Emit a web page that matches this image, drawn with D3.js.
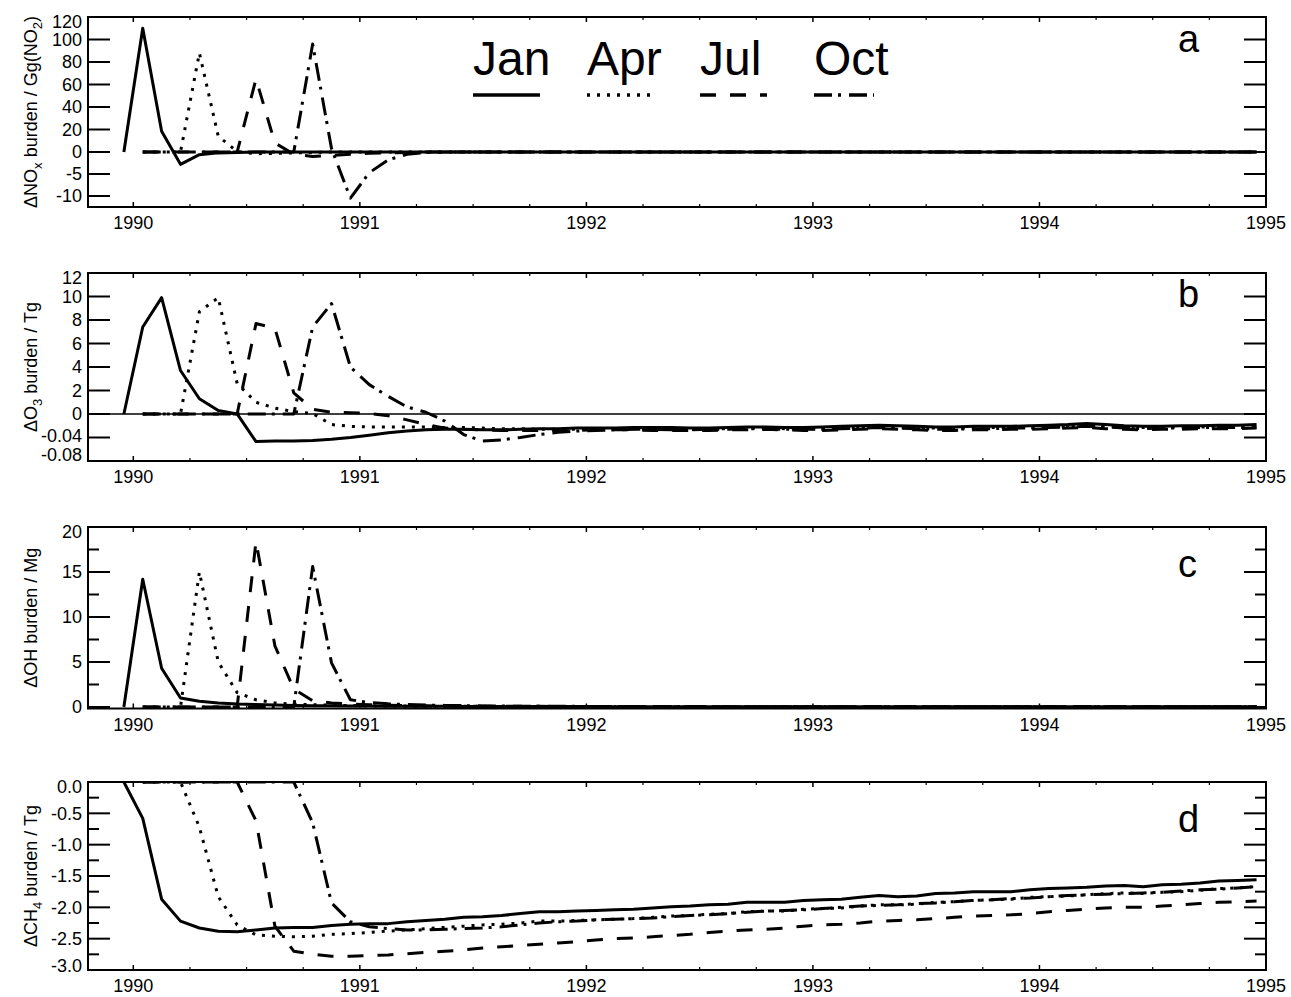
<!DOCTYPE html>
<html><head><meta charset="utf-8">
<script src="https://cdn.jsdelivr.net/npm/d3@7"></script>
<style>
body{margin:0;background:#fff}
svg{display:block}
text{font-family:"Liberation Sans",Arial,Helvetica,sans-serif;fill:#000}
</style>
</head><body>
<svg id="chart" width="1291" height="997"></svg>
<script>
// ---------------- DATA ----------------
const seriesNames = ["Jan","Apr","Jul","Oct"];
const yearTicks = [1990,1991,1992,1993,1994,1995];
// monthly values, index 0 = mid-Dec 1989, index 60 = mid-Dec 1994
const nox_Jan = [0,110,18.5,-2.8,-0.6,-0.2,-0.1,0,0,0,
 0,0,0,0,0,0,0,0,0,0, 0,0,0,0,0,0,0,0,0,0, 0,0,0,0,0,0,0,0,0,0,
 0,0,0,0,0,0,0,0,0,0, 0,0,0,0,0,0,0,0,0,0, 0];
const nox_Apr = [null,0,0,0,88,14,0.5,-0.4,-0.3,-0.2,
 -0.1,0,0,0,0,0,0,0,0,0, 0,0,0,0,0,0,0,0,0,0, 0,0,0,0,0,0,0,0,0,0,
 0,0,0,0,0,0,0,0,0,0, 0,0,0,0,0,0,0,0,0,0, 0];
const nox_Jul = [null,0,0,0,0,0,0,65,8,-0.5,
 -1,-0.8,-0.5,-0.3,-0.2,-0.1,0,0,0,0, 0,0,0,0,0,0,0,0,0,0, 0,0,0,0,0,0,0,0,0,0,
 0,0,0,0,0,0,0,0,0,0, 0,0,0,0,0,0,0,0,0,0, 0];
const nox_Oct = [null,0,0,0,0,0,0,0,0,0,
 96,3,-10.5,-4.7,-1.8,-0.5,-0.1,0,0,0, 0,0,0,0,0,0,0,0,0,0, 0,0,0,0,0,0,0,0,0,0,
 0,0,0,0,0,0,0,0,0,0, 0,0,0,0,0,0,0,0,0,0, 0];

const o3_Jan = [0,7.4,9.9,3.7,1.3,0.3,0.005,-0.047,-0.046,-0.046,
 -0.045,-0.043,-0.040,-0.036,-0.032,-0.029,-0.027,-0.026,-0.026,-0.027,
 -0.027,-0.026,-0.025,-0.025,-0.024,-0.024,-0.024,-0.023,-0.023,-0.023,
 -0.024,-0.024,-0.023,-0.022,-0.022,-0.023,-0.023,-0.022,-0.021,-0.020,
 -0.019,-0.020,-0.021,-0.022,-0.022,-0.021,-0.021,-0.021,-0.020,-0.019,
 -0.018,-0.016,-0.018,-0.020,-0.021,-0.021,-0.020,-0.020,-0.019,-0.019,
 -0.018];
const o3_Apr = [null,0,0,0,8.7,9.9,2.6,1.0,0.5,0.2,
 0.04,-0.018,-0.021,-0.022,-0.022,-0.022,-0.022,-0.023,-0.023,-0.024,
 -0.025,-0.025,-0.026,-0.026,-0.026,-0.025,-0.025,-0.025,-0.026,-0.026,
 -0.026,-0.025,-0.025,-0.024,-0.024,-0.025,-0.025,-0.025,-0.024,-0.023,
 -0.022,-0.023,-0.024,-0.024,-0.024,-0.024,-0.023,-0.023,-0.023,-0.022,
 -0.021,-0.020,-0.021,-0.023,-0.023,-0.023,-0.022,-0.022,-0.022,-0.021,
 -0.021];
const o3_Jul = [null,0,0,0,0,0,0,7.7,7.3,1.8,
 0.4,0.15,0.1,0.05,-0.003,-0.01,-0.018,-0.024,-0.026,-0.027,
 -0.028,-0.028,-0.028,-0.028,-0.028,-0.027,-0.027,-0.027,-0.028,-0.028,
 -0.028,-0.028,-0.027,-0.027,-0.026,-0.027,-0.028,-0.028,-0.027,-0.026,
 -0.025,-0.026,-0.027,-0.028,-0.028,-0.027,-0.027,-0.026,-0.026,-0.025,
 -0.024,-0.023,-0.025,-0.026,-0.027,-0.026,-0.026,-0.025,-0.025,-0.025,
 -0.024];
const o3_Oct = [null,0,0,0,0,0,0,0,0,0,
 7.4,9.4,4.0,2.5,1.5,0.6,0.15,-0.012,-0.035,-0.046,
 -0.044,-0.040,-0.035,-0.031,-0.029,-0.028,-0.027,-0.026,-0.026,-0.027,
 -0.027,-0.026,-0.026,-0.025,-0.025,-0.026,-0.026,-0.026,-0.025,-0.024,
 -0.023,-0.024,-0.025,-0.026,-0.026,-0.025,-0.025,-0.024,-0.024,-0.023,
 -0.022,-0.021,-0.022,-0.024,-0.025,-0.024,-0.024,-0.023,-0.023,-0.023,
 -0.022];

const oh_Jan = [0,14.2,4.3,1.0,0.65,0.45,0.33,0.27,0.22,0.18,
 0.15,0.13,0.11,0.10,0.09,0.08,0.07,0.07,0.06,0.06,
 0.05,0.05,0.05,0.05,0.05,0.04,0.04,0.04,0.04,0.04,
 0.04,0.04,0.04,0.04,0.03,0.03,0.03,0.03,0.03,0.03,
 0.03,0.03,0.03,0.03,0.03,0.03,0.03,0.03,0.03,0.03,
 0.03,0.03,0.03,0.02,0.02,0.02,0.02,0.02,0.02,0.02,
 0.02];
const oh_Apr = [null,0,0,0,15.0,5.0,1.6,0.8,0.45,0.32,
 0.25,0.20,0.16,0.13,0.11,0.10,0.09,0.08,0.07,0.07,
 0.06,0.06,0.05,0.05,0.05,0.05,0.04,0.04,0.04,0.04,
 0.04,0.04,0.04,0.04,0.04,0.03,0.03,0.03,0.03,0.03,
 0.03,0.03,0.03,0.03,0.03,0.03,0.03,0.03,0.03,0.03,
 0.03,0.03,0.03,0.03,0.02,0.02,0.02,0.02,0.02,0.02,
 0.02];
const oh_Jul = [null,0,0,0,0,0,0,18.4,6.8,2.0,
 0.7,0.45,0.32,0.25,0.20,0.16,0.13,0.11,0.10,0.09,
 0.08,0.07,0.07,0.06,0.06,0.05,0.05,0.05,0.05,0.04,
 0.04,0.04,0.04,0.04,0.04,0.04,0.03,0.03,0.03,0.03,
 0.03,0.03,0.03,0.03,0.03,0.03,0.03,0.03,0.03,0.03,
 0.03,0.03,0.03,0.03,0.03,0.02,0.02,0.02,0.02,0.02,
 0.02];
const oh_Oct = [null,0,0,0,0,0,0,0,0,0,
 15.6,4.9,0.8,0.5,0.35,0.27,0.22,0.18,0.15,0.12,
 0.10,0.09,0.08,0.07,0.07,0.06,0.06,0.05,0.05,0.05,
 0.05,0.04,0.04,0.04,0.04,0.04,0.04,0.04,0.03,0.03,
 0.03,0.03,0.03,0.03,0.03,0.03,0.03,0.03,0.03,0.03,
 0.03,0.03,0.03,0.03,0.03,0.03,0.02,0.02,0.02,0.02,
 0.02];

const ch4_Jan = [0,-0.58,-1.87,-2.22,-2.33,-2.38,-2.39,-2.36,-2.33,-2.32,
 -2.32,-2.29,-2.27,-2.26,-2.26,-2.23,-2.21,-2.19,-2.16,-2.15,
 -2.13,-2.10,-2.07,-2.07,-2.06,-2.05,-2.04,-2.03,-2.01,-1.99,
 -1.98,-1.96,-1.95,-1.92,-1.92,-1.92,-1.89,-1.88,-1.87,-1.84,
 -1.81,-1.83,-1.82,-1.78,-1.77,-1.75,-1.75,-1.75,-1.72,-1.70,
 -1.69,-1.68,-1.66,-1.65,-1.67,-1.64,-1.63,-1.61,-1.58,-1.57,
 -1.56];
const ch4_Apr = [null,0,0,0,-0.72,-1.83,-2.28,-2.44,-2.46,-2.47,
 -2.46,-2.43,-2.42,-2.40,-2.38,-2.36,-2.34,-2.32,-2.30,-2.28,
 -2.27,-2.25,-2.22,-2.22,-2.21,-2.20,-2.19,-2.18,-2.16,-2.14,
 -2.13,-2.11,-2.10,-2.07,-2.06,-2.06,-2.03,-2.02,-2.01,-1.98,
 -1.96,-1.96,-1.95,-1.92,-1.91,-1.89,-1.88,-1.87,-1.84,-1.83,
 -1.82,-1.80,-1.78,-1.77,-1.78,-1.76,-1.75,-1.73,-1.70,-1.69,
 -1.67];
const ch4_Jul = [null,0,0,0,0,0,0,-0.62,-2.30,-2.70,
 -2.75,-2.78,-2.78,-2.77,-2.76,-2.74,-2.72,-2.70,-2.68,-2.65,
 -2.63,-2.61,-2.59,-2.57,-2.55,-2.52,-2.50,-2.49,-2.47,-2.45,
 -2.43,-2.40,-2.38,-2.36,-2.35,-2.33,-2.30,-2.28,-2.27,-2.25,
 -2.22,-2.21,-2.20,-2.18,-2.16,-2.14,-2.13,-2.12,-2.10,-2.07,
 -2.05,-2.03,-2.01,-2.00,-2.00,-1.98,-1.96,-1.94,-1.92,-1.91,
 -1.90];
const ch4_Oct = [null,0,0,0,0,0,0,0,0,0,
 -0.65,-1.93,-2.23,-2.31,-2.34,-2.36,-2.36,-2.35,-2.34,-2.33,
 -2.31,-2.28,-2.25,-2.23,-2.22,-2.20,-2.19,-2.18,-2.17,-2.15,
 -2.13,-2.12,-2.10,-2.08,-2.06,-2.05,-2.04,-2.02,-2.00,-1.98,
 -1.97,-1.96,-1.94,-1.93,-1.91,-1.89,-1.88,-1.86,-1.85,-1.83,
 -1.81,-1.80,-1.79,-1.78,-1.77,-1.76,-1.74,-1.72,-1.71,-1.69,
 -1.67];

const noxTicks = [120,100,80,60,40,20,0,-5,-10];
const o3Ticks = [12,10,8,6,4,2,0,-0.04,-0.08];
const o3Labels = ["12","10","8","6","4","2","0","-0.04","-0.08"];
const ohTicks = [20,15,10,5,0];
const ohMinor = [17.5,12.5,7.5,2.5];
const ch4Ticks = [0,-0.5,-1,-1.5,-2,-2.5,-3];
const ch4Labels = ["0.0","-0.5","-1.0","-1.5","-2.0","-2.5","-3.0"];
const ch4Minor = [-0.25,-0.75,-1.25,-1.75,-2.25,-2.75];

// ---------------- LAYOUT ----------------
const svg = d3.select("#chart");
const X0 = 88, X1 = 1266;
const x = d3.scaleLinear().domain([1989.8, 1995.0]).range([X0, X1]);
const times = d3.range(61).map(i => 1990 + (i - 0.5) / 12);
const quarterTicks = d3.range(1990, 1995.01, 0.25).filter(t => Math.abs(t - Math.round(t)) > 1e-6);

const styles = {
  Jan: null,
  Apr: "3,7",
  Jul: "16,14",
  Oct: "18,6,3,8"
};

const panels = [
  {letter:"a", top:17, bottom:207, zeroPx:152, dom:[-12.5,0,120],
   major:noxTicks, labels:noxTicks.map(String), minor:[], labelDy:{},
   title:[["ΔNO",0],["x",1],[" burden / Gg(NO",0],["2",1],[")",0]],
   data:{Jan:nox_Jan,Apr:nox_Apr,Jul:nox_Jul,Oct:nox_Oct}, zeroLine:false, letterDy:35},
  {letter:"b", top:273, bottom:461, zeroPx:414, dom:[-0.08,0,12],
   major:o3Ticks, labels:o3Labels, minor:[], labelDy:{"-0.04":-2,"-0.08":-6},
   title:[["ΔO",0],["3",1],[" burden / Tg",0]],
   data:{Jan:o3_Jan,Apr:o3_Apr,Jul:o3_Jul,Oct:o3_Oct}, zeroLine:true, letterDy:34},
  {letter:"c", top:527, bottom:708.5, zeroPx:707, dom:[-0.17,0,20],
   major:ohTicks, labels:ohTicks.map(String), minor:ohMinor, labelDy:{},
   title:[["ΔOH burden / Mg",0]],
   data:{Jan:oh_Jan,Apr:oh_Apr,Jul:oh_Jul,Oct:oh_Oct}, zeroLine:false, letterDy:50},
  {letter:"d", top:782, bottom:970, zeroPx:782, dom:[-3,0],
   major:ch4Ticks, labels:ch4Labels, minor:ch4Minor, labelDy:{"-3.0":-4},
   title:[["ΔCH",0],["4",1],[" burden / Tg",0]],
   data:{Jan:ch4_Jan,Apr:ch4_Apr,Jul:ch4_Jul,Oct:ch4_Oct}, zeroLine:false, letterDy:50}
];

panels.forEach((p, pi) => {
  const y = d3.scaleLinear()
    .domain(p.dom)
    .range(p.dom.length === 3 ? [p.bottom, p.zeroPx, p.top] : [p.bottom, p.top]);
  const g = svg.append("g");
  const clipId = "clip" + pi;
  svg.append("clipPath").attr("id", clipId).append("rect")
    .attr("x", X0).attr("y", p.top).attr("width", X1 - X0).attr("height", p.bottom - p.top);

  if (p.zeroLine) {
    g.append("line").attr("x1", X0).attr("x2", X1).attr("y1", y(0)).attr("y2", y(0))
      .attr("stroke", "#000").attr("stroke-width", 1.5);
  }

  const lg = g.append("g").attr("clip-path", `url(#${clipId})`);
  seriesNames.forEach(s => {
    const vals = p.data[s];
    const line = d3.line()
      .defined(d => d[1] !== null)
      .x(d => x(d[0])).y(d => y(d[1]));
    lg.append("path")
      .datum(times.map((t, i) => [t, vals[i]]))
      .attr("d", line)
      .attr("fill", "none").attr("stroke", "#000")
      .attr("stroke-width", 3)
      .attr("stroke-linejoin", "round")
      .attr("stroke-dasharray", styles[s]);
  });

  g.append("rect").attr("x", X0).attr("y", p.top).attr("width", X1 - X0).attr("height", p.bottom - p.top)
    .attr("fill", "none").attr("stroke", "#000").attr("stroke-width", 2);

  yearTicks.forEach(t => {
    g.append("line").attr("x1", x(t)).attr("x2", x(t)).attr("y1", p.bottom).attr("y2", p.bottom - 5).attr("stroke", "#000").attr("stroke-width", 1.5);
    g.append("line").attr("x1", x(t)).attr("x2", x(t)).attr("y1", p.top).attr("y2", p.top + 5).attr("stroke", "#000").attr("stroke-width", 1.5);
    g.append("text").attr("x", x(t)).attr("y", p.bottom + 22).attr("text-anchor", "middle")
      .attr("font-size", 18).text(String(t));
  });
  quarterTicks.forEach(t => {
    g.append("line").attr("x1", x(t)).attr("x2", x(t)).attr("y1", p.bottom).attr("y2", p.bottom - 3).attr("stroke", "#000").attr("stroke-width", 1.2);
    g.append("line").attr("x1", x(t)).attr("x2", x(t)).attr("y1", p.top).attr("y2", p.top + 3).attr("stroke", "#000").attr("stroke-width", 1.2);
  });

  const ymax = d3.max(p.dom);
  p.major.forEach((v, k) => {
    const yy = y(v);
    g.append("line").attr("x1", X0).attr("x2", X0 + 22).attr("y1", yy).attr("y2", yy).attr("stroke", "#000").attr("stroke-width", 2);
    g.append("line").attr("x1", X1).attr("x2", X1 - 22).attr("y1", yy).attr("y2", yy).attr("stroke", "#000").attr("stroke-width", 2);
    let dy = 0;
    if (v === ymax) dy = 5;
    if (p.labelDy[p.labels[k]] !== undefined) dy = p.labelDy[p.labels[k]];
    g.append("text").attr("x", 82).attr("y", yy + dy).attr("dy", "0.35em")
      .attr("text-anchor", "end").attr("font-size", 18).text(p.labels[k]);
  });
  p.minor.forEach(v => {
    const yy = y(v);
    g.append("line").attr("x1", X0).attr("x2", X0 + 11).attr("y1", yy).attr("y2", yy).attr("stroke", "#000").attr("stroke-width", 2);
    g.append("line").attr("x1", X1).attr("x2", X1 - 11).attr("y1", yy).attr("y2", yy).attr("stroke", "#000").attr("stroke-width", 2);
  });

  const mid = (p.top + p.bottom) / 2;
  const tt = g.append("text").attr("transform", `translate(37,${mid}) rotate(-90)`)
    .attr("text-anchor", "middle").attr("font-size", 18);
  let shifted = false;
  p.title.forEach(([s, sub]) => {
    const ts = tt.append("tspan").text(s);
    if (sub && !shifted) { ts.attr("dy", 5).attr("font-size", 13); shifted = true; }
    else if (!sub && shifted) { ts.attr("dy", -5); shifted = false; }
  });

  g.append("text").attr("x", 1178).attr("y", p.top + p.letterDy).attr("font-size", 38).text(p.letter);
});

// legend
const legX = [473, 587, 700, 814];
const legW = [67, 66, 67, 60];
seriesNames.forEach((s, i) => {
  svg.append("text").attr("x", legX[i]).attr("y", 75).attr("font-size", 48).text(s);
  svg.append("line").attr("x1", legX[i]).attr("x2", legX[i] + legW[i]).attr("y1", 95).attr("y2", 95)
    .attr("stroke", "#000").attr("stroke-width", 3.5).attr("stroke-dasharray", styles[s]);
});
</script>
</body></html>
